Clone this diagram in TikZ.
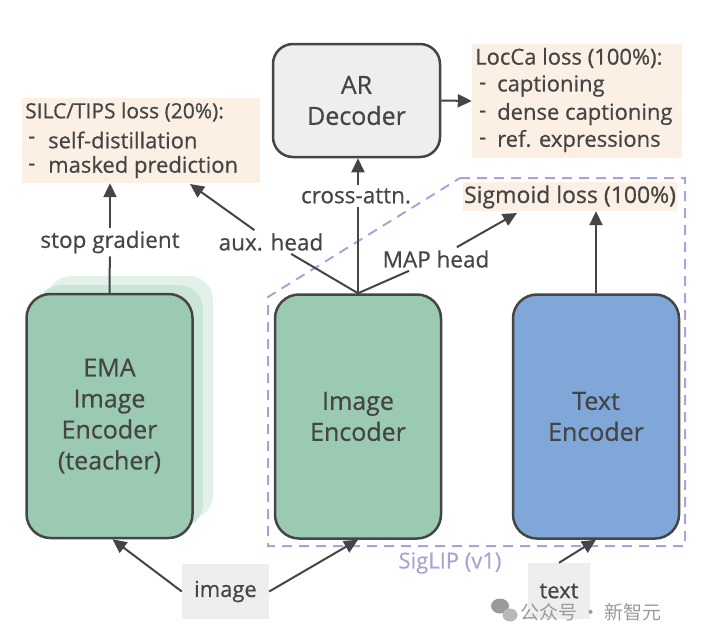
\documentclass[tikz,border=0pt]{standalone}
\usepackage{fontspec}
\setmainfont{Open Sans}[FakeBold=0.6]
\newfontfamily\cjk{Noto Sans CJK SC}
\usetikzlibrary{arrows.meta,calc}
\definecolor{ink}{HTML}{454545}
\definecolor{grn}{HTML}{9BCAB2}
\definecolor{grnA}{HTML}{CBE5D7}
\definecolor{grnB}{HTML}{E2F1E9}
\definecolor{blu}{HTML}{7FA7D8}
\definecolor{gry}{HTML}{EEEEEE}
\definecolor{beige}{HTML}{FCEFE3}
\definecolor{sig}{HTML}{A8A5D6}
\definecolor{wm}{HTML}{9A9A9A}
\tikzset{
  bigbox/.style={draw=ink, line width=2.5pt, rounded corners=24pt, text=ink, align=center,
    font=\fontsize{25}{31}\selectfont, inner sep=0pt},
  lossbox/.style={fill=beige, draw=none},
  lbl/.style={text=ink, font=\fontsize{22.5}{26}\selectfont, inner sep=3pt},
  itm/.style={text=ink, font=\fontsize{22}{26}\selectfont, anchor=west, inner sep=0pt},
  inbox/.style={fill=gry, text=ink, font=\fontsize{22}{26}\selectfont, inner sep=0pt},
  arr/.style={draw=ink, line width=2pt, -{Triangle[length=14pt,width=13pt]}},
  ln/.style={draw=ink, line width=2pt},
}
\begin{document}
\begin{tikzpicture}[x=1pt,y=-1pt]
\useasboundingbox (0,0) rectangle (720,641);
% SigLIP dashed region
\draw[sig, line width=2pt, dash pattern=on 10pt off 7pt] (460,178) -- (685,178) -- (685,546) -- (268,546) -- (268,297) -- cycle;
\node[text=sig, font=\fontsize{22}{26}\selectfont] (siglip) at (450,563) {SigLIP (v1)};
% EMA shadows
\fill[grnB, rounded corners=24pt] (47,276) rectangle (213,519);
\fill[grnA, rounded corners=24pt] (37,285) rectangle (203,528);
% encoders
\node[bigbox, fill=grn, minimum width=166pt, minimum height=244pt] (ema) at (109.5,416) {EMA\\Image\\Encoder\\(teacher)};
\node[bigbox, fill=grn, minimum width=166pt, minimum height=244pt] (enc) at (358,416.5) {Image\\Encoder};
\node[bigbox, fill=blu, minimum width=166pt, minimum height=244pt] (tenc) at (596,416.5) {Text\\Encoder};
\node[bigbox, fill=gry, rounded corners=20pt, minimum width=167pt, minimum height=113pt] (ar) at (356.5,100.5) {AR\\Decoder};
% loss boxes
\node[lossbox, minimum width=238pt, minimum height=85pt, inner sep=0pt] (silc) at (141,140.5) {};
\node[itm, font=\fontsize{21}{26}\selectfont] at (25,112) {SILC/TIPS loss (20\%):};
\node[itm] at (28,140) {-};
\node[itm] at (48,140) {self-distillation};
\node[itm] at (28,167) {-};
\node[itm] at (48,167) {masked prediction};
\node[lossbox, minimum width=210pt, minimum height=114pt, inner sep=0pt] (locca) at (577,101) {};
\node[itm] at (475,58) {LocCa loss (100\%):};
\node[itm] at (479,86) {-};
\node[itm] at (497,86) {captioning};
\node[itm] at (479,114) {-};
\node[itm] at (497,114) {dense captioning};
\node[itm] at (479,141) {-};
\node[itm] at (497,141) {ref. expressions};
\node[lossbox, minimum width=214pt, minimum height=29pt, inner sep=0pt] (sigm) at (570,196.5) {};
\node[text=ink, font=\fontsize{23}{26}\selectfont, inner sep=0pt] at (570,197) {Sigmoid loss (100\%)};
% inputs
\node[inbox, minimum width=87pt, minimum height=55pt] (img) at (225.5,591.5) {image};
\node[inbox, minimum width=62pt, minimum height=56pt] (txt) at (559,591) {text};
% labels
\node[lbl] (stop) at (110,242) {stop gradient};
\node[lbl] (aux) at (271,242) {aux. head};
\node[lbl] (cross) at (356,196) {cross-attn.};
\node[lbl] (map) at (436,259) {MAP head};
\coordinate (silcT) at (190,184);
\coordinate (sigT) at (517,213);
% connectors
\draw[arr] (img.west) -- ($(ema.south)+(3,0)$);
\draw[arr] (img.east) -- (enc.south);
\draw[arr] (txt.north) -- (tenc.south);
\draw[arr] (tenc.north) -- (tenc.north |- sigm.south);
\draw[ln] (ema.north) -- (stop);
\draw[arr] (stop) -- (stop |- silc.south);
\draw[ln] (enc.north) -- (aux);
\draw[arr] (aux) -- (silcT);
\draw[ln] (enc.north) -- (enc.north |- cross.south);
\draw[arr] (enc.north |- cross.north) -- (enc.north |- ar.south);
\draw[ln] (enc.north) -- (map);
\draw[arr] (map) -- (sigT);
\draw[arr] (ar.east) -- (locca.west);
% watermark
\fill[wm] (500,606) ellipse (9pt and 7.5pt);
\fill[wm!70] (510,615) ellipse (7.5pt and 6.5pt);
\node[text=wm, font=\cjk\fontsize{19}{22}\selectfont, anchor=west, inner sep=0pt] (wmk) at (520,612) {公众号 · 新智元};
\end{tikzpicture}
\end{document}
